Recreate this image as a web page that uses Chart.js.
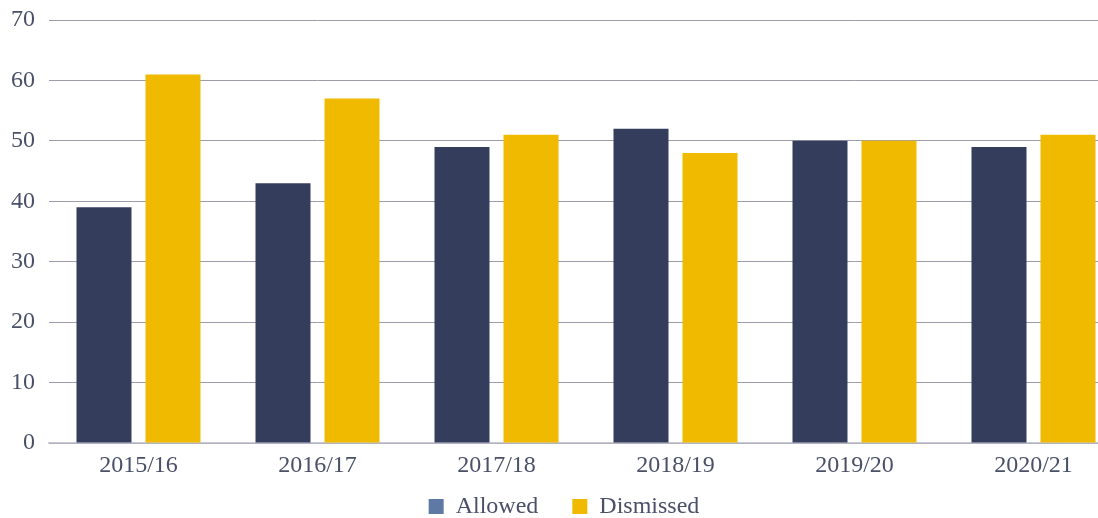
<!DOCTYPE html>
<html>
<head>
<meta charset="utf-8">
<script src="https://cdn.jsdelivr.net/npm/chart.js@4/dist/chart.umd.min.js"></script>
<style>
html,body{margin:0;padding:0;background:#fff;overflow:hidden;width:1098px;height:518px;}
#wrap{width:1123px;height:518px;position:relative;}
</style>
</head>
<body>
<div id="wrap"><canvas id="c" width="1123" height="518"></canvas></div>
<script>
const categories = ["2015/16","2016/17","2017/18","2018/19","2019/20","2020/21"];
const allowed = [39,43,49,52,50,49];
const dismissed = [61,57,51,48,50,51];
const yTicks = [0,10,20,30,40,50,60,70];

const textColor = "#4a5068";
const fontFamily = "'Liberation Serif', 'DejaVu Serif', serif";
const legendPad = 34;
const legendFont = 24;

const legendPlace = {
  id: "legendPlace",
  afterLayout(chart) {
    const lg = chart.legend;
    if (!lg) return;
    lg.top = 509 - legendPad - legendFont * 1.2 / 2;
    lg.bottom = 540;
    lg.height = lg.bottom - lg.top;
    lg.left = 0;
    lg.right = 1128;
    lg.width = lg.right - lg.left;
  }
};

new Chart(document.getElementById("c"), {
  type: "bar",
  data: {
    labels: categories,
    datasets: [
      {label: "Allowed", data: allowed, backgroundColor: "#343e5c", legendColor: "#5f79a5",
       categoryPercentage: 0.771, barPercentage: 0.797},
      {label: "Dismissed", data: dismissed, backgroundColor: "#f0ba00", legendColor: "#f0ba00",
       categoryPercentage: 0.771, barPercentage: 0.797}
    ]
  },
  plugins: [legendPlace],
  options: {
    responsive: false,
    animation: false,
    layout: {padding: {left: 11, right: 0, top: 0, bottom: 0}},
    plugins: {
      tooltip: {enabled: false},
      legend: {
        position: "bottom",
        maxHeight: 35,
        labels: {
          font: {family: fontFamily, size: legendFont},
          color: textColor,
          boxWidth: 15, boxHeight: 15,
          padding: legendPad,
          generateLabels(chart) {
            return chart.data.datasets.map((ds, i) => ({
              text: ds.label, fillStyle: ds.legendColor, strokeStyle: ds.legendColor,
              lineWidth: 0, fontColor: textColor, datasetIndex: i, hidden: false
            }));
          }
        }
      }
    },
    scales: {
      x: {
        grid: {display: false, drawTicks: false},
        border: {color: "#c9c9d6", width: 1.5},
        ticks: {font: {family: fontFamily, size: 24}, color: textColor, padding: 8},
        afterFit(scale) { scale.height = 40; }
      },
      y: {
        min: 0, max: 70,
        afterBuildTicks(axis) { axis.ticks = yTicks.map(v => ({value: v})); },
        grid: {color: "#9c9cab", lineWidth: 1, drawTicks: false},
        border: {display: false},
        ticks: {font: {family: fontFamily, size: 24}, color: textColor, padding: 14},
        afterFit(scale) { scale.width = 38; scale.paddingTop = 20; scale.paddingBottom = 0; }
      }
    }
  }
});
</script>
</body>
</html>
